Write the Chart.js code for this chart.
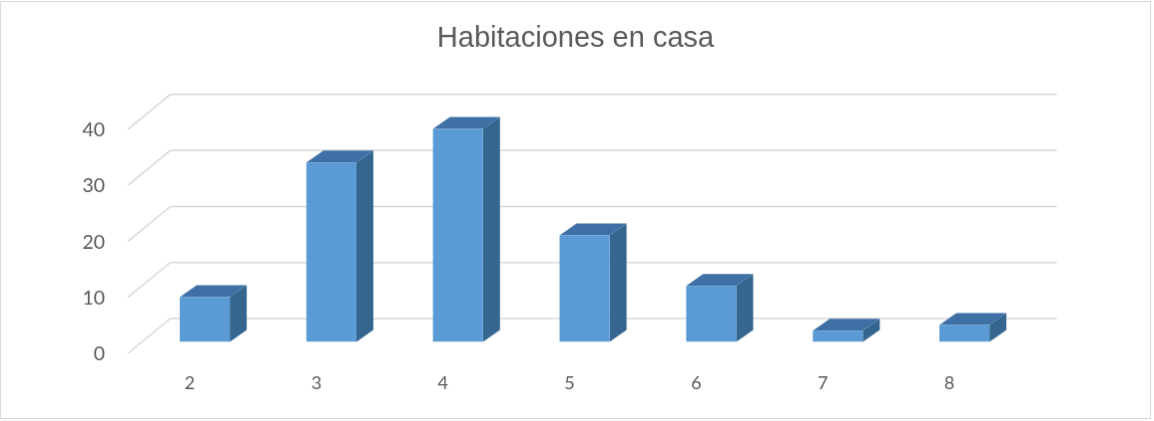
<!DOCTYPE html>
<html>
<head>
<meta charset="utf-8">
<style>
  body { margin: 0; background: #fff; }
  #chart { display: block; margin: 1px 0 0 0; border: 1px solid #d9d9d9; }
</style>
<script src="https://cdn.jsdelivr.net/npm/chart.js@4"></script>
</head>
<body>
<canvas id="chart" width="1151" height="418"></canvas>
<script>
'use strict';

const categories = ['2', '3', '4', '5', '6', '7', '8'];
const rooms = [8, 32, 38, 19, 10, 2, 3];
const yTicks = [0, 10, 20, 30, 40];

const gridColor = '#d9d9d9';
const frontColor = '#5b9bd5';
const topColor = '#3e70a6';
const sideColor = '#34668f';

// fake 3D: bars sit mid depth, wall is behind them, floor edge in front
const barDepthX = 17;
const barDepthY = 12;
const wallX = 29;
const wallY = 23.5;
const floorX = 13.5;
const floorY = 11.5;

function poly(ctx, pts, color) {
  ctx.fillStyle = color;
  ctx.beginPath();
  ctx.moveTo(pts[0][0], pts[0][1]);
  for (let i = 1; i < pts.length; i++) {
    ctx.lineTo(pts[i][0], pts[i][1]);
  }
  ctx.closePath();
  ctx.fill();
}

const fake3d = {
  id: 'fake3d',
  beforeDatasetsDraw(chart) {
    const ctx = chart.ctx;
    const x = chart.scales.x;
    const y = chart.scales.y;
    ctx.save();
    ctx.strokeStyle = gridColor;
    ctx.lineWidth = 1.5;
    yTicks.forEach(function (v) {
      const py = y.getPixelForValue(v);
      ctx.beginPath();
      ctx.moveTo(x.left - floorX, py + floorY);
      ctx.lineTo(x.left + wallX, py - wallY);
      ctx.lineTo(x.right + wallX, py - wallY);
      ctx.stroke();
    });
    chart.getDatasetMeta(0).data.forEach(function (bar) {
      const l = bar.x - bar.width / 2;
      const r = bar.x + bar.width / 2;
      poly(ctx, [[l, bar.y], [l + barDepthX, bar.y - barDepthY], [r + barDepthX, bar.y - barDepthY], [r, bar.y]], topColor);
      poly(ctx, [[r, bar.y], [r + barDepthX, bar.y - barDepthY], [r + barDepthX, bar.base - barDepthY], [r, bar.base]], sideColor);
    });
    ctx.restore();
  }
};

new Chart(document.getElementById('chart'), {
  type: 'bar',
  plugins: [fake3d],
  data: {
    labels: categories,
    datasets: [{
      label: 'Habitaciones',
      data: rooms,
      backgroundColor: frontColor,
      categoryPercentage: 1,
      barPercentage: 0.395
    }]
  },
  options: {
    responsive: false,
    animation: false,
    plugins: {
      legend: { display: false },
      tooltip: { enabled: false },
      title: {
        display: true,
        text: 'Habitaciones en casa',
        color: '#595959',
        font: { family: 'Liberation Sans', size: 29, weight: 'normal' },
        padding: { top: 20, bottom: 61.5 }
      }
    },
    scales: {
      x: {
        grid: { display: false },
        border: { display: false },
        afterFit(scale) { scale.height = 76.5; },
        ticks: {
          color: '#595959',
          font: { family: 'Lato', size: 18 },
          labelOffset: -15,
          padding: 23,
          maxRotation: 0
        }
      },
      y: {
        min: 0,
        max: 40,
        grid: { display: false },
        border: { display: false },
        afterFit(scale) { scale.width = 140.65; },
        afterBuildTicks(scale) { scale.ticks = yTicks.map(function (v) { return { value: v }; }); },
        ticks: {
          color: '#595959',
          font: { family: 'Lato', size: 19.5 },
          labelOffset: 12.5,
          padding: 28.5
        }
      },
      // empty axis only to reserve the right margin, keeps the title centred on the page
      margin: {
        position: 'right',
        grid: { display: false },
        border: { display: false },
        ticks: { display: false },
        afterFit(scale) { scale.width = 122.5; }
      }
    }
  }
});
</script>
</body>
</html>
